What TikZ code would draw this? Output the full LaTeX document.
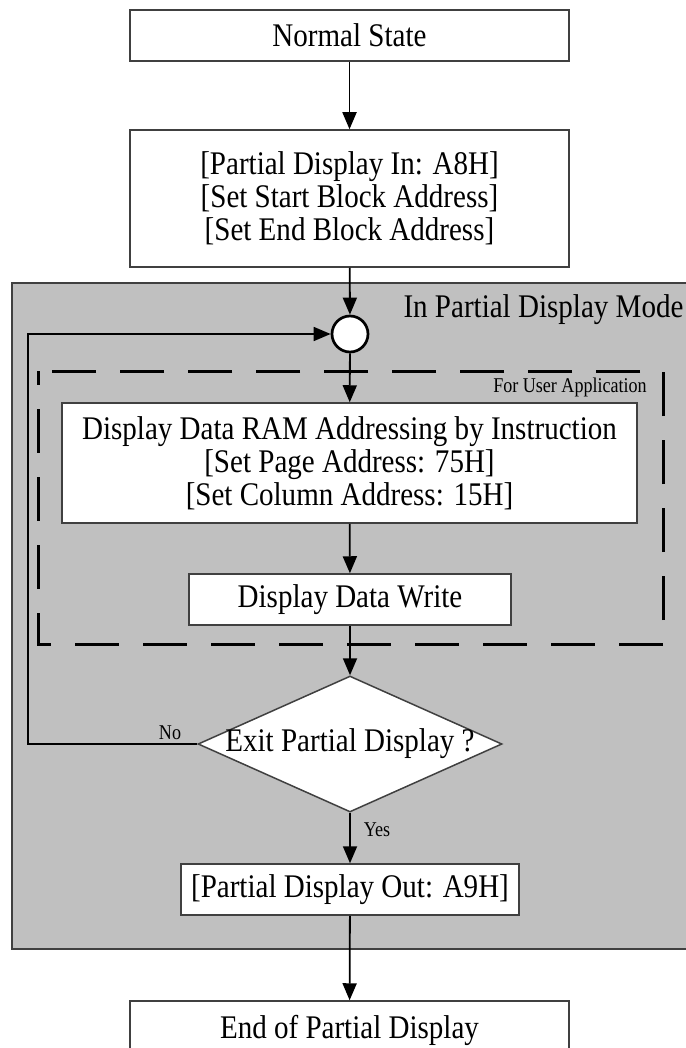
\documentclass[tikz,border=0pt]{standalone}
\usepackage{fontspec}
\setmainfont{Liberation Serif}[FakeStretch=0.88]
\newfontfamily\smallserif{Liberation Serif}[FakeStretch=0.86]
\usetikzlibrary{arrows.meta,shapes.geometric}
\definecolor{boxline}{HTML}{404040}
\definecolor{modegrey}{HTML}{C0C0C0}
\tikzset{
  box/.style={draw=boxline, line width=1.5pt, fill=white, inner sep=0pt, align=center,
    font=\fontsize{33}{33}\selectfont},
  bigtext/.style={inner sep=0pt, font=\fontsize{33}{33}\selectfont},
  smalltext/.style={inner sep=0pt, font=\smallserif\fontsize{21}{22}\selectfont},
  arr/.style={line width=1.8pt, -{Triangle[length=17pt,width=14pt]}},
  dia/.style={diamond, draw=boxline, line width=1.5pt, fill=white, inner sep=0pt,
    minimum width=304pt, minimum height=136pt},
  joint/.style={circle, draw=black, line width=2.7pt, fill=white, minimum size=36pt, inner sep=0pt},
  userframe/.style={draw=black, line width=3pt, dash pattern=on 44pt off 24pt, dash phase=30pt},
  modearea/.style={fill=modegrey, draw=boxline, line width=1.5pt}
}
\begin{document}
\begin{tikzpicture}[x=1pt, y=-1pt]
\useasboundingbox (0,0) rectangle (685,1048);
% mode area
\path[modearea] (12,283) rectangle (700,949);
\node[bigtext] (modelabel) at (543.5,310) {In Partial Display Mode};
% dashed user frame
\draw[userframe] (38,371) rectangle (663,644);
\node[smalltext] (userlabel) at (570,387) {For User Application};

\node[box, minimum width=439pt, minimum height=51pt] (ns) at (349.5,35.5) {Normal State};
\node[box, minimum width=439pt, minimum height=137pt] (pin) at (349.5,198.5)
  {{[Partial Display In: A8H]}\\{[Set Start Block Address]}\\{[Set End Block Address]}};
\node[joint] (c) at (350,334) {};
\node[box, minimum width=575pt, minimum height=120pt] (ram) at (349.5,463)
  {Display Data RAM Addressing by Instruction\\{[Set Page Address: 75H]}\\{[Set Column Address: 15H]}};
\node[box, minimum width=322pt, minimum height=51pt] (write) at (350,599.5) {Display Data Write};
\node[dia] (d) at (350,744) {};
\node[bigtext] (dtext) at (350,744) {Exit Partial Display ?};
\node[box, minimum width=338pt, minimum height=51pt] (out) at (350,889.5) {[Partial Display Out: A9H]};
\node[box, minimum width=439pt, minimum height=58pt] (end) at (349.5,1030) {End of Partial Display};

\node[smalltext] (nolabel) at (170,733) {No};
\node[smalltext] (yeslabel) at (377,830) {Yes};

\coordinate (lp) at (28,744);

\draw[arr] (ns) -- (pin);
\draw[arr] (pin) -- (c);
\draw[arr] (c) -- (ram);
\draw[arr] (ram) -- (write);
\draw[arr] (write) -- (d.north);
\draw[arr] (d.south) -- (out);
\draw[arr] (out) -- (end);
\draw[arr] (d.west) -- (lp) |- (c.west);
\end{tikzpicture}
\end{document}
